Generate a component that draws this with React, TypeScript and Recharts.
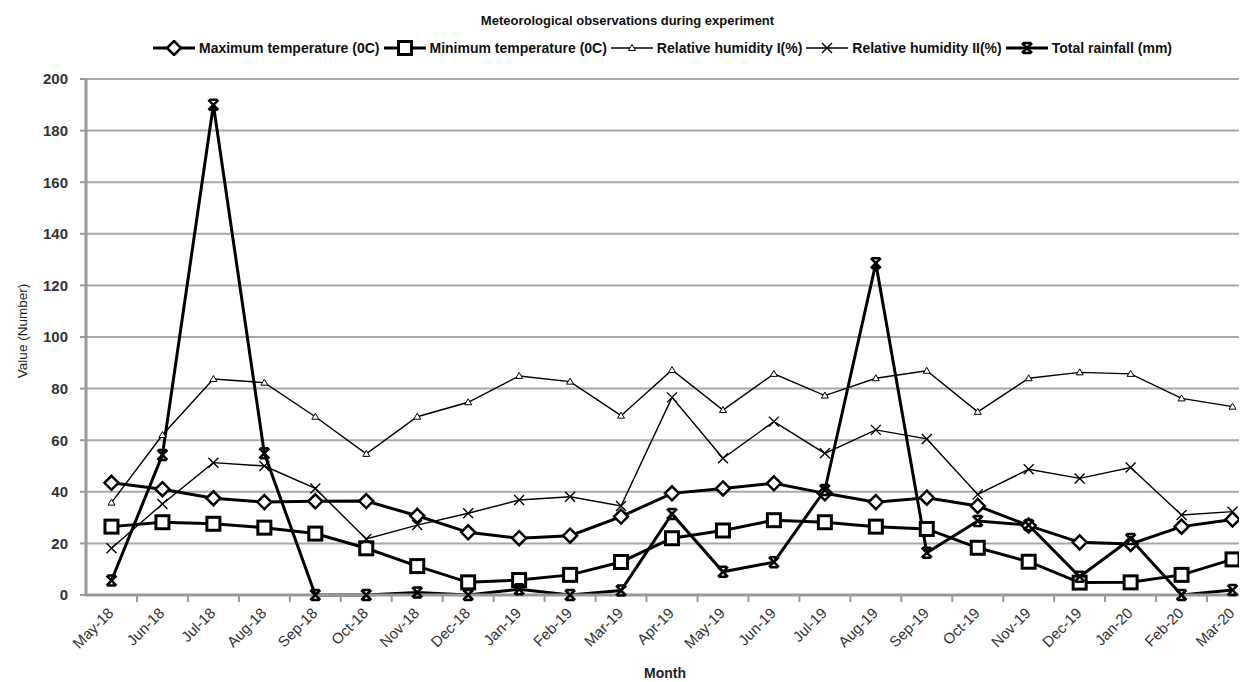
import { LineChart, Line, XAxis, YAxis, CartesianGrid, Legend } from "recharts";

const months = [
  "May-18", "Jun-18", "Jul-18", "Aug-18", "Sep-18", "Oct-18", "Nov-18", "Dec-18",
  "Jan-19", "Feb-19", "Mar-19", "Apr-19", "May-19", "Jun-19", "Jul-19", "Aug-19",
  "Sep-19", "Oct-19", "Nov-19", "Dec-19", "Jan-20", "Feb-20", "Mar-20",
];

const maxTemp = [43.5, 41, 37.5, 36, 36.3, 36.4, 30.7, 24.3, 22, 23, 30.4, 39.4, 41.3, 43.3, 39.4, 36, 37.7, 34.5, 26.9, 20.4, 19.8, 26.5, 29.3];
const minTemp = [26.5, 28.2, 27.6, 26.1, 23.8, 18.1, 11.2, 4.9, 5.8, 7.8, 12.8, 22, 25, 29, 28.2, 26.5, 25.6, 18.3, 12.9, 4.8, 4.9, 7.8, 13.8];
const humidity1 = [35.8, 62, 83.7, 82.3, 69.1, 54.7, 69.1, 74.7, 84.9, 82.7, 69.5, 87.2, 71.7, 85.7, 77.3, 84, 86.9, 71, 84, 86.3, 85.7, 76.2, 73];
const humidity2 = [18.1, 35.3, 51.3, 50, 41.3, 21.7, 27.1, 31.7, 36.8, 38.1, 34.5, 76.6, 53, 67.2, 54.9, 64, 60.5, 39, 48.7, 45.2, 49.4, 31, 32.3];
const rainfall = [5.6, 54.3, 190, 54.9, 0, 0, 1, 0, 2.2, 0, 1.7, 31.4, 9, 12.7, 40.7, 128.6, 16.4, 28.7, 27.1, 7.1, 21.7, 0, 1.9];

const yTicks = [0, 20, 40, 60, 80, 100, 120, 140, 160, 180, 200];

const data = months.map((m, i) => ({
  i,
  month: m,
  maxTemp: maxTemp[i],
  minTemp: minTemp[i],
  humidity1: humidity1[i],
  humidity2: humidity2[i],
  rainfall: rainfall[i],
}));

const FONT = '"Liberation Sans", Arial, sans-serif';
const CHART_W = 1250;
const PLOT_LEFT = 78;
const HALF_BAND = (CHART_W - PLOT_LEFT) / months.length / 2;

// markers
const diamond = (cx: number, cy: number, key?: any) => (
  <path key={key} d={`M${cx},${cy - 7}L${cx + 7},${cy}L${cx},${cy + 7}L${cx - 7},${cy}Z`} fill="#fff" stroke="#000" strokeWidth={2.5} />
);
const square = (cx: number, cy: number, key?: any) => (
  <rect key={key} x={cx - 6.5} y={cy - 6.5} width={13} height={13} fill="#fff" stroke="#000" strokeWidth={3} />
);
const triangle = (cx: number, cy: number, key?: any) => (
  <path key={key} d={`M${cx},${cy - 3.5}L${cx + 3.5},${cy + 2.5}L${cx - 3.5},${cy + 2.5}Z`} fill="#fff" stroke="#000" strokeWidth={1} />
);
const cross = (cx: number, cy: number, key?: any) => (
  <path key={key} d={`M${cx - 5},${cy - 5}L${cx + 5},${cy + 5}M${cx + 5},${cy - 5}L${cx - 5},${cy + 5}`} stroke="#000" strokeWidth={1.4} fill="none" />
);
const star = (cx: number, cy: number, key?: any) => (
  <path key={key} d={`M${cx - 5},${cy - 5}L${cx + 5},${cy + 5}M${cx + 5},${cy - 5}L${cx - 5},${cy + 5}M${cx - 4},${cy - 5}L${cx + 4},${cy - 5}M${cx - 4},${cy + 5}L${cx + 4},${cy + 5}`} stroke="#000" strokeWidth={2.5} fill="none" />
);

const series = [
  { key: "maxTemp", name: "Maximum temperature (0C)", width: 3, marker: diamond },
  { key: "minTemp", name: "Minimum temperature (0C)", width: 3, marker: square },
  { key: "humidity1", name: "Relative humidity I(%)", width: 1.4, marker: triangle },
  { key: "humidity2", name: "Relative humidity II(%)", width: 1.4, marker: cross },
  { key: "rainfall", name: "Total rainfall (mm)", width: 3, marker: star },
];

const MonthTick = (props: any) => {
  const { x, y, payload } = props;
  return (
    <g>
      <line x1={x + HALF_BAND} x2={x + HALF_BAND} y1={y} y2={y + 7} stroke="#999" strokeWidth={2} />
      <text
        x={x + 3}
        y={y + 19}
        textAnchor="end"
        transform={`rotate(-45, ${x + 3}, ${y + 19})`}
        fontSize={15}
        fill="#333"
        fontFamily={FONT}
      >
        {months[payload.value]}
      </text>
    </g>
  );
};

const XLabel = (props: any) => {
  const vb = props.viewBox;
  return (
    <text x={vb.x + vb.width / 2 - 7} y={vb.y + vb.height - 4} textAnchor="middle" fontSize={14} fontWeight="bold" fill="#222" fontFamily={FONT}>
      Month
    </text>
  );
};

const YLabel = (props: any) => {
  const vb = props.viewBox;
  const cy = vb.y + vb.height / 2 - 6;
  return (
    <text x={14} y={cy} transform={`rotate(-90, 14, ${cy})`} textAnchor="middle" dominantBaseline="central" fontSize={13.5} fill="#222" fontFamily={FONT}>
      Value (Number)
    </text>
  );
};

const renderLegend = () => (
  <div style={{ display: "flex", alignItems: "center", height: 30, paddingLeft: 145, fontFamily: FONT, fontSize: 14, fontWeight: "bold", color: "#111", whiteSpace: "nowrap" }}>
    {series.map((s) => (
      <div key={s.key} style={{ display: "flex", alignItems: "center", marginRight: 4 }}>
        <svg width={42} height={16} style={{ marginRight: 4 }}>
          <line x1={0} x2={42} y1={8} y2={8} stroke="#000" strokeWidth={s.width} />
          {s.marker(21, 8)}
        </svg>
        <span>{s.name}</span>
      </div>
    ))}
  </div>
);

export default function App() {
  return (
    <div style={{ width: 1239, height: 674, overflow: "hidden", position: "relative", background: "#fff" }}>
      <div style={{ position: "absolute", top: 5, left: 0, width: 1239, textAlign: "center", fontFamily: FONT, fontSize: 13, fontWeight: "bold", color: "#111" }}>
        Meteorological observations during experiment
      </div>
      <LineChart width={CHART_W} height={674} data={data} margin={{ top: 41, right: 0, bottom: 0, left: 0 }}>
        <CartesianGrid vertical={false} stroke="#a8a8a8" strokeWidth={2} />
        <XAxis
          type="number"
          dataKey="i"
          domain={[-0.5, 22.5]}
          ticks={months.map((_, i) => i)}
          interval={0}
          allowDataOverflow
          tickLine={false}
          tickSize={0}
          tickMargin={0}
          axisLine={{ stroke: "#999", strokeWidth: 3 }}
          height={87}
          tick={<MonthTick />}
          label={<XLabel />}
        />
        <YAxis
          width={78}
          domain={[0, 200]}
          ticks={yTicks}
          interval={0}
          tickSize={6}
          tickMargin={12}
          tickLine={{ stroke: "#999", strokeWidth: 2 }}
          axisLine={{ stroke: "#999", strokeWidth: 3 }}
          tick={{ fontSize: 15, fontWeight: "bold", fill: "#333", fontFamily: FONT }}
          label={<YLabel />}
        />
        <Legend verticalAlign="top" content={renderLegend} wrapperStyle={{ top: 25, left: 0, height: 30 }} />
        {series.map((s) => (
          <Line
            key={s.key}
            dataKey={s.key}
            name={s.name}
            stroke="#000"
            strokeWidth={s.width}
            dot={(p: any) => s.marker(p.cx, p.cy, p.index)}
            activeDot={false}
            isAnimationActive={false}
          />
        ))}
      </LineChart>
    </div>
  );
}
